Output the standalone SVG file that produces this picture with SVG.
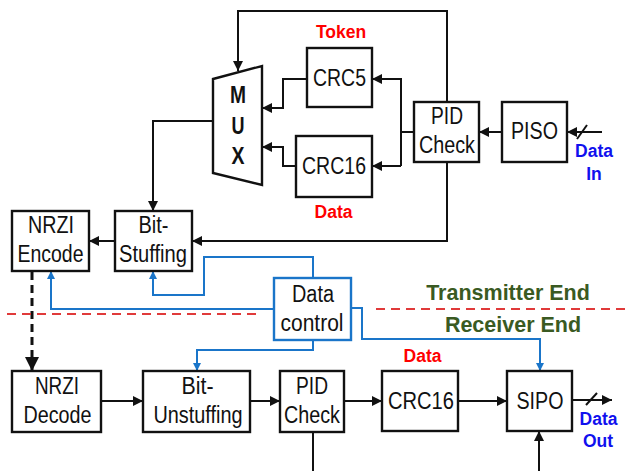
<svg xmlns="http://www.w3.org/2000/svg" width="627" height="471" viewBox="0 0 627 471">
<style>
.box{fill:#fff;stroke:#111;stroke-width:2.4}
.bbox{fill:#fff;stroke:#1a75c9;stroke-width:2.4}
.ln{fill:none;stroke:#111;stroke-width:2}
.bl{fill:none;stroke:#1a75c9;stroke-width:2}
.t{font-family:"Liberation Sans",Arial,sans-serif;font-size:23.5px;fill:#111;text-anchor:middle}
.mx{font-weight:bold}
.red{font-family:"Liberation Sans",Arial,sans-serif;font-weight:bold;font-size:17.5px;fill:#ff0000;text-anchor:middle}
.blue{font-family:"Liberation Sans",Arial,sans-serif;font-weight:bold;font-size:17.5px;fill:#1010ee;text-anchor:middle}
.green{font-family:"Liberation Sans",Arial,sans-serif;font-weight:bold;font-size:21.5px;fill:#3a5a22;text-anchor:middle}
</style>
<defs>
<marker id="ah" viewBox="0 0 10 10" refX="10" refY="5" markerWidth="11" markerHeight="10" markerUnits="userSpaceOnUse" orient="auto"><path d="M0,0 L10,5 L0,10 z" fill="#111"/></marker>
<marker id="bh" viewBox="0 0 10 10" refX="10" refY="5" markerWidth="9" markerHeight="8" markerUnits="userSpaceOnUse" orient="auto"><path d="M0,0 L10,5 L0,10 z" fill="#1a75c9"/></marker>
<marker id="dh" viewBox="0 0 10 10" refX="10" refY="5" markerWidth="15" markerHeight="14" markerUnits="userSpaceOnUse" orient="auto"><path d="M0,0 L10,5 L0,10 z" fill="#111"/></marker>
</defs>

<g id="connectors">
<path class="ln" d="M447,102 V11 H238 V71" marker-end="url(#ah)"/>
<path class="ln" d="M414,132 H401"/>
<path class="ln" d="M401,78 V166"/>
<path class="ln" d="M401,79 H372" marker-end="url(#ah)"/>
<path class="ln" d="M401,166 H372" marker-end="url(#ah)"/>
<path class="ln" d="M307,79 H283 V108 H262" marker-end="url(#ah)"/>
<path class="ln" d="M296,166 H283 V147 H262" marker-end="url(#ah)"/>
<path class="ln" d="M502,132 H479" marker-end="url(#ah)"/>
<path class="ln" d="M602,132 H567" marker-end="url(#ah)"/>
<path class="ln" d="M577,139 L587,125"/>
<path class="ln" d="M213,121 H153 V211" marker-end="url(#ah)"/>
<path class="ln" d="M447,162 V241 H192" marker-end="url(#ah)"/>
<path class="ln" d="M115,241 H89" marker-end="url(#ah)"/>
<path class="bl" d="M313,278 V257 H204 V295 H153 V271" marker-end="url(#bh)"/>
<path class="bl" d="M274,309 H51 V271" marker-end="url(#bh)"/>
<path class="bl" d="M351,308 H362 V339 H540 V371" marker-end="url(#bh)"/>
<path class="bl" d="M313,340 V350 H197 V371" marker-end="url(#bh)"/>
<path d="M32,272 V371" fill="none" stroke="#111" stroke-width="3" stroke-dasharray="8,5" marker-end="url(#dh)"/>
<path class="ln" d="M101,401 H143" marker-end="url(#ah)"/>
<path class="ln" d="M250,401 H280" marker-end="url(#ah)"/>
<path class="ln" d="M344,401 H382" marker-end="url(#ah)"/>
<path class="ln" d="M458,401 H507" marker-end="url(#ah)"/>
<path class="ln" d="M572,400 H612" marker-end="url(#ah)"/>
<path class="ln" d="M586,405 L597,393"/>
<path class="ln" d="M313,432 V471"/>
<path class="ln" d="M539,471 V431" marker-end="url(#ah)"/>
<path d="M7,314 H260" fill="none" stroke="#e03a3a" stroke-width="2" stroke-dasharray="9,6"/>
<path d="M376,309 H627" fill="none" stroke="#e03a3a" stroke-width="2" stroke-dasharray="9,6"/>
</g>

<g id="mux">
<polygon class="box" points="213,79 262,66 262,185 213,173"/>
<text class="t mx" x="238" y="103" textLength="16" lengthAdjust="spacingAndGlyphs">M</text>
<text class="t mx" x="238" y="134" textLength="13" lengthAdjust="spacingAndGlyphs">U</text>
<text class="t mx" x="238" y="164" textLength="13" lengthAdjust="spacingAndGlyphs">X</text>
</g>
<g id="crc5">
<rect class="box" x="307" y="48" width="65" height="59"/>
<text class="t" x="339.5" y="86" textLength="53" lengthAdjust="spacingAndGlyphs">CRC5</text>
<text class="red" x="341" y="38">Token</text>
</g>
<g id="crc16-tx">
<rect class="box" x="296" y="136" width="76" height="61"/>
<text class="t" x="334" y="174" textLength="64" lengthAdjust="spacingAndGlyphs">CRC16</text>
<text class="red" x="333.5" y="218">Data</text>
</g>
<g id="pid-tx">
<rect class="box" x="414" y="102" width="65" height="60"/>
<text class="t" x="447" y="124" textLength="32" lengthAdjust="spacingAndGlyphs">PID</text>
<text class="t" x="447" y="153" textLength="56" lengthAdjust="spacingAndGlyphs">Check</text>
</g>
<g id="piso">
<rect class="box" x="502" y="102" width="65" height="60"/>
<text class="t" x="534.5" y="139" textLength="47" lengthAdjust="spacingAndGlyphs">PISO</text>
<text class="blue" x="594" y="157">Data</text>
<text class="blue" x="594" y="180">In</text>
</g>
<g id="nrzi-enc">
<rect class="box" x="12" y="211" width="77" height="60"/>
<text class="t" x="51" y="233" textLength="46" lengthAdjust="spacingAndGlyphs">NRZI</text>
<text class="t" x="50.5" y="262" textLength="66" lengthAdjust="spacingAndGlyphs">Encode</text>
</g>
<g id="bitstuff">
<rect class="box" x="115" y="211" width="77" height="60"/>
<text class="t" x="153.5" y="233" textLength="30" lengthAdjust="spacingAndGlyphs">Bit-</text>
<text class="t" x="153" y="262" textLength="68" lengthAdjust="spacingAndGlyphs">Stuffing</text>
</g>
<g id="datacontrol">
<rect class="bbox" x="274" y="278" width="77" height="62"/>
<text class="t" x="313" y="302" textLength="42" lengthAdjust="spacingAndGlyphs">Data</text>
<text class="t" x="312" y="331" textLength="63" lengthAdjust="spacingAndGlyphs">control</text>
</g>
<g id="labels">
<text class="green" x="508" y="300">Transmitter End</text>
<text class="green" x="513" y="332">Receiver End</text>
</g>
<g id="nrzi-dec">
<rect class="box" x="12" y="371" width="89" height="61"/>
<text class="t" x="57" y="394" textLength="44" lengthAdjust="spacingAndGlyphs">NRZI</text>
<text class="t" x="57.5" y="423" textLength="68" lengthAdjust="spacingAndGlyphs">Decode</text>
</g>
<g id="bitunstuff">
<rect class="box" x="143" y="371" width="107" height="61"/>
<text class="t" x="197.5" y="394" textLength="32" lengthAdjust="spacingAndGlyphs">Bit-</text>
<text class="t" x="198" y="423" textLength="89" lengthAdjust="spacingAndGlyphs">Unstuffing</text>
</g>
<g id="pid-rx">
<rect class="box" x="280" y="371" width="64" height="61"/>
<text class="t" x="312" y="394" textLength="32" lengthAdjust="spacingAndGlyphs">PID</text>
<text class="t" x="312" y="423" textLength="56" lengthAdjust="spacingAndGlyphs">Check</text>
</g>
<g id="crc16-rx">
<rect class="box" x="382" y="371" width="76" height="60"/>
<text class="t" x="421" y="409" textLength="66" lengthAdjust="spacingAndGlyphs">CRC16</text>
<text class="red" x="422.5" y="362">Data</text>
</g>
<g id="sipo">
<rect class="box" x="507" y="371" width="65" height="60"/>
<text class="t" x="540" y="409" textLength="47" lengthAdjust="spacingAndGlyphs">SIPO</text>
<text class="blue" x="598.5" y="425">Data</text>
<text class="blue" x="598" y="447">Out</text>
</g>
</svg>
